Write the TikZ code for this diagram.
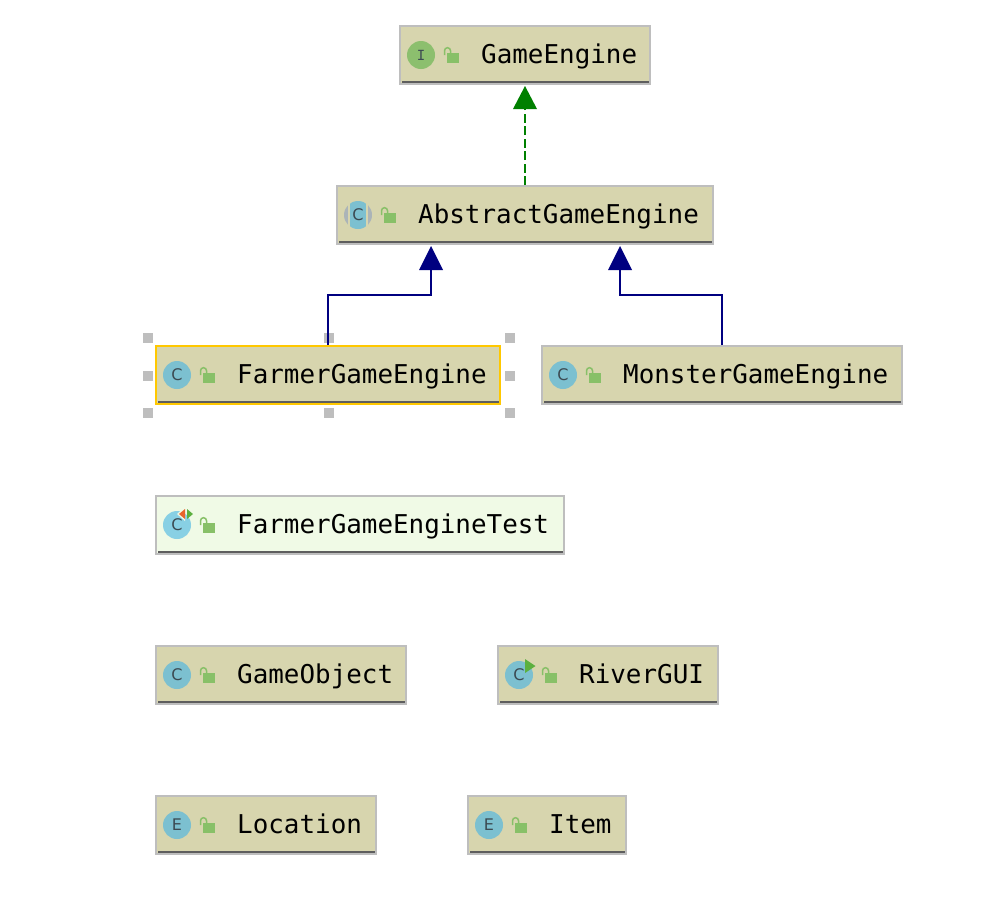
\documentclass[tikz,border=0pt]{standalone}
\usepackage{fontspec}
\setmonofont{DejaVu Sans Mono}
\newfontfamily\iconfont{DejaVu Sans}
\usetikzlibrary{arrows.meta}
\definecolor{boxfill}{HTML}{D7D5AE}
\definecolor{testfill}{HTML}{F0FAE6}
\definecolor{boxedge}{HTML}{BEBEBE}
\definecolor{barcol}{HTML}{5E5E5E}
\definecolor{selcol}{HTML}{FFC800}
\definecolor{classcol}{HTML}{7CC0D0}
\definecolor{testcol}{HTML}{88D0E4}
\definecolor{ifacecol}{HTML}{8CBF6E}
\definecolor{lockcol}{HTML}{88C068}
\definecolor{lettercol}{HTML}{3C4A52}
\definecolor{runcol}{HTML}{5CB040}
\definecolor{orangecol}{HTML}{E8642C}
\definecolor{absgray}{HTML}{ABB4B8}
\definecolor{implcol}{HTML}{008000}
\definecolor{extcol}{HTML}{000080}
\tikzset{
  umlbox/.style={draw=boxedge,fill=boxfill,line width=2pt,inner sep=0pt,minimum height=58pt},
  umllabel/.style={anchor=base west,inner sep=0pt,font=\ttfamily\fontsize{25.9}{26}\selectfont,text=black},
  iconletter/.style={inner sep=0pt,text=lettercol,font=\iconfont\fontsize{16}{16}\selectfont},
  handle/.style={fill=boxedge,draw=none,minimum size=10pt,inner sep=0pt,outer sep=0pt},
  impl/.style={draw=implcol,line width=2pt,dash pattern=on 9pt off 3.5pt,-{Triangle[length=23pt,width=24pt,fill=implcol,line width=0pt,sep=0pt]}},
  ext/.style={draw=extcol,line width=2pt,-{Triangle[length=24pt,width=24pt,fill=extcol,line width=0pt]}}
}
% name, x1, y1, x2, text x, text, fill, edge
\newcommand{\umlnode}[8]{%
  \node[umlbox,fill=#7,draw=#8,minimum width={(#4-#2)*1pt}] (#1) at ({(#2+#4)/2},#3+29) {};
  \fill[barcol] (#2+1.5,#3+54.5) rectangle (#4-1.5,#3+57);
  \node[umllabel] (#1-label) at (#5,#3+37) {#6};
  \fill[lockcol] (#2+47,#3+27) rectangle (#2+59,#3+37);
  \draw[lockcol,line width=1.5pt] (#2+44.5,#3+29) -- (#2+44.5,#3+24.7) arc[start angle=180,end angle=360,radius=3] -- (#2+50.5,#3+27);
}
% name, x1, y1, circle colour, letter
\newcommand{\umlicon}[5]{%
  \fill[#4] (#2+21,#3+29) circle[radius=14];
  \node[iconletter] (#1-icon) at (#2+21,#3+29) {#5};
}
\begin{document}
\begin{tikzpicture}[x=1pt,y=-1pt]
\useasboundingbox[fill=white] (0,0) rectangle (1004,900);

% selection handles
\foreach \nm/\hx/\hy in {ha/148/338,hb/329/338,hc/510/338,hd/148/376,he/510/376,hf/148/413,hg/329/413,hh/510/413}
  \node[handle] (\nm) at (\hx,\hy) {};

\umlnode{game}{400}{26}{650}{481}{GameEngine}{boxfill}{boxedge}
\fill[ifacecol] (421,55) circle[radius=14];
\node[iconletter,font=\ttfamily\fontsize{14}{14}\selectfont] (game-icon) at (421,55) {I};

\umlnode{abstract}{337}{186}{713}{418}{AbstractGameEngine}{boxfill}{boxedge}
\begin{scope}
  \clip (358,215) circle[radius=14];
  \fill[absgray] (344,200) rectangle (348,230);
  \fill[absgray] (368,200) rectangle (372,230);
  \fill[classcol] (350,200) rectangle (366,230);
\end{scope}
\node[iconletter] (abstract-icon) at (358,215) {C};

\umlnode{farmer}{156}{346}{500}{237}{FarmerGameEngine}{boxfill}{selcol}
\umlicon{farmer}{156}{346}{classcol}{C}

\umlnode{monster}{542}{346}{902}{623}{MonsterGameEngine}{boxfill}{boxedge}
\umlicon{monster}{542}{346}{classcol}{C}

\umlnode{test}{156}{496}{564}{237}{FarmerGameEngineTest}{testfill}{boxedge}
\umlicon{test}{156}{496}{testcol}{C}
\fill[testfill] (185,507) -- (185,521) -- (177,514) -- cycle;
\fill[orangecol] (185,509) -- (185,519) -- (179,514) -- cycle;
\fill[runcol] (187,509) -- (187,519) -- (193,514) -- cycle;

\umlnode{gameobject}{156}{646}{406}{237}{GameObject}{boxfill}{boxedge}
\umlicon{gameobject}{156}{646}{classcol}{C}

\umlnode{river}{498}{646}{718}{579}{RiverGUI}{boxfill}{boxedge}
\umlicon{river}{498}{646}{classcol}{C}
\fill[runcol] (525,659) -- (525,673) -- (535.5,666) -- cycle;

\umlnode{location}{156}{796}{376}{237}{Location}{boxfill}{boxedge}
\umlicon{location}{156}{796}{classcol}{E}

\umlnode{item}{468}{796}{626}{549}{Item}{boxfill}{boxedge}
\umlicon{item}{468}{796}{classcol}{E}

% connectors
\draw[impl] (abstract.north) -- ([yshift=-1pt]game.south);
\draw[ext] (farmer.north) -- (328,295) -- (431,295) -- ([xshift=-94pt,yshift=-1pt]abstract.south);
\draw[ext] (monster.north) -- (722,295) -- (620,295) -- ([xshift=95pt,yshift=-1pt]abstract.south);
\end{tikzpicture}
\end{document}
